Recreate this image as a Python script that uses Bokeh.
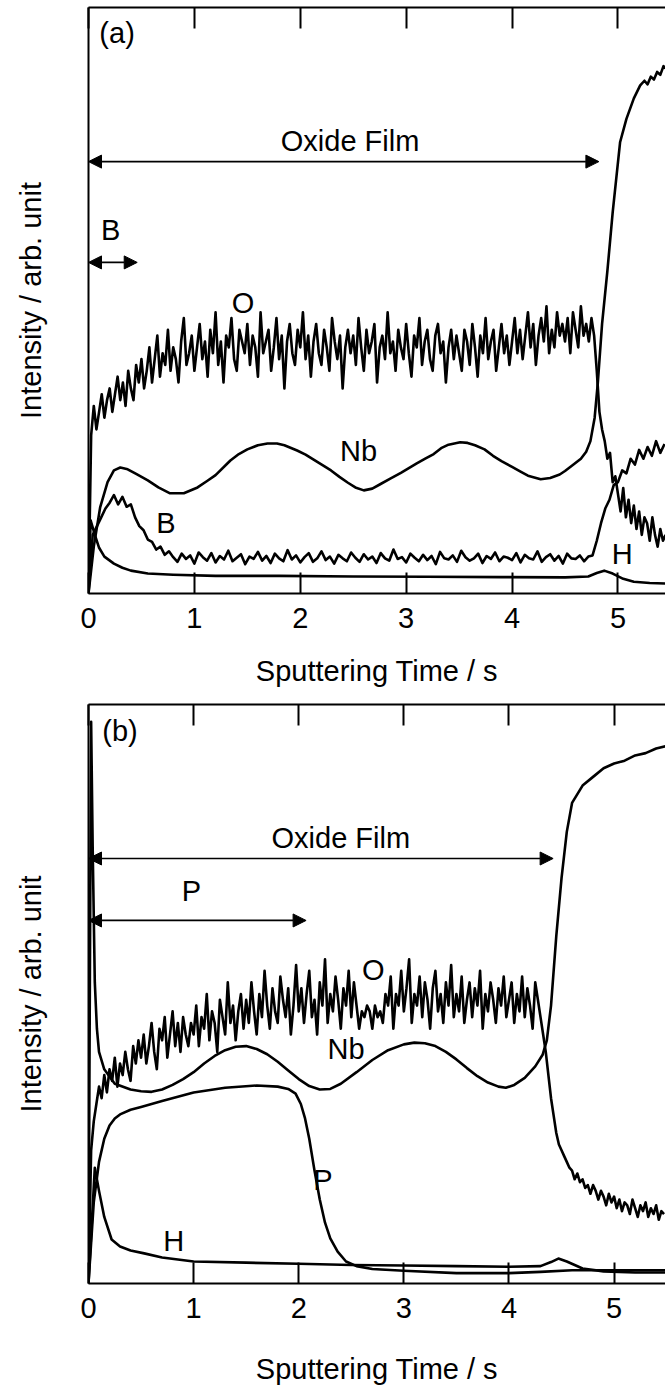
import numpy as np
from bokeh.plotting import figure
from bokeh.models import Range1d, LinearAxis, FixedTicker, Arrow, NormalHead, Label
from bokeh.layouts import column
from bokeh.embed import file_html
from bokeh.resources import INLINE

FONT = "Liberation Sans"
FS = "29px"

# ---------------- Panel (a) data ----------------
dt_a_O = 0.025
O_a = [0, 27, 32, 28, 31, 34, 30, 33, 35, 31, 34, 37, 33, 36, 32, 38, 35, 33, 39, 36,
       40, 35, 38, 42, 36, 40, 44, 37, 41, 39, 45, 38, 42, 40, 36, 43, 47, 39, 41, 44,
       38, 42, 46, 40, 43, 37, 45, 41, 48, 39, 43, 36, 44, 42, 47, 40, 38, 45, 43, 41,
       46, 39, 44, 42, 37, 48, 41, 43, 45, 38, 42, 47, 40, 44, 35, 43, 46, 41, 39, 45,
       42, 48, 40, 44, 37, 43, 46, 41, 39, 45, 42, 38, 47, 43, 40, 44, 35, 42, 45, 41,
       44, 39, 47, 42, 38, 45, 41, 43, 46, 36, 42, 44, 40, 48, 41, 43, 38, 45, 42, 40,
       46, 41, 37, 44, 42, 47, 39, 43, 45, 40, 38, 44, 46, 41, 43, 36, 42, 45, 40, 44,
       41, 38, 45, 43, 39, 46, 42, 37, 44, 41, 47, 40, 43, 45, 38, 42, 46, 41, 44, 39,
       43, 47, 41, 45, 40, 44, 48, 42, 46, 39, 44, 47, 43, 49, 41, 45, 42, 48, 44, 46,
       43, 47, 41, 48, 45, 42, 49, 44, 46, 43, 47, 44, 38, 31, 28, 26, 23, 24, 19, 20,
       17, 14, 18, 13, 16, 12, 15, 11, 14, 10, 13, 12, 9, 13, 10, 8, 11, 9, 10]

t_Nb_a = [0, 0.05, 0.11, 0.18, 0.24, 0.3, 0.37, 0.45, 0.56, 0.66, 0.77, 0.9, 1.03, 1.12,
          1.2, 1.34, 1.42, 1.5, 1.6, 1.69, 1.78, 1.85, 1.97, 2.05, 2.13, 2.21, 2.29, 2.37,
          2.45, 2.52, 2.6, 2.68, 2.75, 2.85, 2.95, 3.1, 3.18, 3.26, 3.33, 3.4, 3.51, 3.58,
          3.65, 3.74, 3.82, 3.9, 4.0, 4.08, 4.15, 4.27, 4.36, 4.45, 4.5, 4.58, 4.65, 4.7,
          4.74, 4.78, 4.81, 4.85, 4.9, 4.95, 5.02, 5.08, 5.15, 5.21, 5.25, 5.28, 5.31, 5.34,
          5.37, 5.4, 5.43, 5.45]
Nb_a = [0, 8, 14.7, 19, 21, 21.5, 21.2, 20.4, 19.3, 18.1, 17.1, 17.1, 18.1, 19.2,
        20.2, 22.7, 23.8, 24.6, 25.3, 25.6, 25.6, 25.3, 24.4, 23.7, 22.8, 21.9, 21, 19.9,
        18.9, 18.1, 17.6, 17.9, 18.6, 19.6, 20.6, 22.2, 23.0, 23.8, 24.8, 25.4, 25.8, 25.7,
        25.3, 24.6, 23.5, 22.6, 21.6, 20.8, 20.1, 19.5, 19.7, 20.3, 20.9, 22.0, 23.0, 24.2,
        26, 30, 36, 46, 55, 65, 77, 81, 84.5, 86.7, 87.5, 86.9, 88.2, 87.7,
        89, 88.5, 90, 89.6]

dt_a_B = 0.04
B_a = [0, 10, 11.5, 13, 14.5, 15.5, 16.8, 15.2, 16.5, 14.8, 15.2, 13, 11.5, 10.8, 9.2, 8.8, 7.5, 8, 6.6, 7.2, 6.2,
       5.4, 6.8, 5.9, 6.5, 5.1, 7.0, 6.2, 5.6, 6.9, 5.3, 6.4, 5.8, 7.3, 5.5, 6.1, 6.7, 5.0, 6.3, 5.9, 7.1,
       5.6, 6.4, 5.2, 6.8, 6.0, 5.5, 7.4, 5.8, 6.5, 5.3, 6.2, 6.9, 5.4, 6.0, 7.2, 5.7, 6.3, 5.1, 6.6, 6.0,
       5.5, 7.0, 6.1, 5.4, 6.7, 5.8, 6.3, 5.2, 6.9, 6.0, 5.6, 7.5, 5.9, 6.2, 5.3, 6.8, 6.1, 5.5, 6.6, 5.7,
       6.4, 5.0, 7.1, 6.0, 5.8, 6.5, 5.4, 7.3, 6.2, 5.6, 6.0, 6.8, 5.2, 6.4, 5.9, 7.0, 5.5, 6.3, 6.1, 5.7,
       6.9, 5.3, 6.6, 6.0, 5.8, 7.2, 5.4, 6.2, 6.7, 5.6, 6.4, 5.1, 6.8, 6.0, 5.9, 6.5, 5.5, 6.3,
       6.5, 9, 12, 14.5, 16, 18.5, 19, 21, 20.5, 23, 22, 24.5, 23, 25, 23.5, 26, 24, 25.5]

t_H_a = [0, 0.02, 0.06, 0.1, 0.15, 0.24, 0.32, 0.4, 0.56, 0.8, 1.2, 1.8, 2.5, 3.2, 3.9,
         4.5, 4.72, 4.8, 4.87, 4.95, 5.05, 5.15, 5.3, 5.45]
H_a = [0, 12.5, 10, 7.8, 6.3, 5.1, 4.4, 3.9, 3.4, 3.2, 3.0, 3.0, 2.9, 2.85, 2.8,
       2.75, 2.9, 3.5, 3.9, 3.4, 2.5, 2.0, 1.8, 1.7]

# ---------------- Panel (b) data ----------------
dt_b_O = 0.025
O_b = [0, 23, 28, 31, 34, 32, 36, 33, 37, 35, 39, 34, 38, 36, 40, 37, 35, 41, 38, 42,
       39, 43, 38, 41, 45, 40, 37, 44, 42, 46, 39, 43, 47, 41, 45, 40, 46, 43, 41, 45,
       43, 48, 41, 46, 44, 50, 42, 47, 45, 40, 49, 46, 43, 52, 45, 48, 42, 47, 50, 44,
       49, 45, 52, 47, 43, 50, 46, 54, 48, 44, 51, 47, 45, 53, 49, 46, 51, 43, 48, 55,
       47, 51, 45, 50, 54, 46, 49, 43, 52, 48, 56, 45, 50, 47, 53, 49, 44, 51, 48, 54,
       46, 52, 48, 44, 47, 46, 48, 47, 44, 48, 46, 47, 45, 50, 48, 53, 44, 50, 48, 54,
       47, 51, 56, 45, 50, 48, 53, 46, 52, 49, 44, 51, 54, 47, 50, 45, 52, 48, 55, 46,
       50, 47, 53, 45, 49, 52, 46, 51, 48, 54, 44, 50, 47, 52, 49, 45, 51, 48, 53, 46,
       49, 52, 45, 50, 47, 53, 46, 51, 48, 44, 52, 49, 46, 43, 40, 36, 32, 29, 26, 24,
       23, 22, 21, 20, 19.5, 18, 19, 17.5, 18, 16.5, 17, 15.5, 17, 16, 14.5, 16, 15, 13.5, 15.5, 14,
       15, 13, 14.5, 12.5, 14, 13.5, 12, 14.5, 13, 11.5, 13.5, 12.5, 14, 11.5, 13, 12, 13.5, 11, 12.5, 12]

t_Nb_b = [0, 0.015, 0.025, 0.04, 0.06, 0.08, 0.1, 0.15, 0.25, 0.4, 0.5, 0.6, 0.7, 0.8,
          0.9, 1.0, 1.1, 1.2, 1.3, 1.4, 1.5, 1.6, 1.7, 1.8, 1.9, 2.0, 2.1, 2.2, 2.3, 2.4,
          2.55, 2.7, 2.85, 3.0, 3.1, 3.2, 3.3, 3.4, 3.5, 3.6, 3.7, 3.8, 3.9, 3.97, 4.05,
          4.15, 4.25, 4.32, 4.36, 4.4, 4.45, 4.5, 4.55, 4.6, 4.7, 4.8, 4.9, 5.0, 5.1, 5.2,
          5.3, 5.4, 5.49]
Nb_b = [0, 60, 97, 75, 52, 44, 40, 37, 34.5, 33.5, 33.2, 33.1, 33.5, 34.3,
        35.3, 36.5, 38.0, 39.3, 40.3, 40.9, 41.0, 40.5, 39.6, 38.3, 36.8, 35.3, 34.1, 33.5, 33.6, 34.5,
        36.5, 38.6, 40.3, 41.3, 41.6, 41.5, 41.0, 40.0, 38.7, 37.2, 35.8, 34.7, 34.0, 33.8, 34.3,
        35.5, 37.5, 39.5, 42, 48, 60, 70, 78, 83, 86, 87.5, 89, 89.8, 90.3, 91.2,
        91.6, 92.4, 92.8]

t_P_b = [0, 0.05, 0.1, 0.15, 0.2, 0.25, 0.3, 0.4, 0.5, 0.7, 1.0, 1.3, 1.6, 1.8, 1.9,
         1.97, 2.02, 2.06, 2.1, 2.15, 2.2, 2.25, 2.3, 2.37, 2.45, 2.55, 2.7, 3.0, 3.5,
         4.0, 4.3, 4.6, 5.0, 5.49]
P_b = [0, 14, 21, 25, 27.3, 28.5, 29.2, 30, 30.5, 31.5, 33, 33.8, 34.2, 34.0, 33.6,
       32.8, 31, 28.5, 25, 19.5, 14.5, 10.5, 7.8, 5.5, 3.8, 3.0, 2.5, 2.2, 1.8,
       1.8, 2, 2.3, 2.3, 2.3]

t_H_b = [0, 0.06, 0.1, 0.15, 0.22, 0.3, 0.4, 0.53, 0.7, 1.0, 1.5, 2.0, 2.5, 3.0, 3.5,
         4.0, 4.3, 4.4, 4.47, 4.55, 4.7, 4.9, 5.2, 5.49]
H_b = [0, 20, 16, 11.5, 7.6, 6.4, 5.7, 5.2, 4.5, 3.8, 3.6, 3.4, 3.2, 3.1, 3.0,
       2.9, 3.0, 3.7, 4.3, 3.8, 2.6, 2.1, 1.9, 1.9]

x_ticks = [0, 1, 2, 3, 4, 5, 6]

# annotation texts / positions (data units)
labels_a = [("(a)", 0.27, 95.7), ("Oxide Film", 2.47, 77.3), ("B", 0.21, 62.0),
            ("O", 1.46, 49.5), ("Nb", 2.55, 24.4), ("B", 0.73, 12.1), ("H", 5.04, 6.7)]
arrows_a = [(0.0, 4.82, 73.7), (0.0, 0.46, 56.5)]
labels_b = [("(b)", 0.30, 95.5), ("Oxide Film", 2.40, 77.0), ("P", 0.98, 67.8),
            ("O", 2.71, 54.2), ("Nb", 2.45, 40.5), ("P", 2.23, 17.8), ("H", 0.81, 7.4)]
arrows_b = [(0.0, 4.42, 73.4), (0.0, 2.07, 62.7)]


def panel(height, border_top, border_bottom, border_left, xmax, title_standoff):
    p = figure(width=665, height=height, x_range=Range1d(0, xmax), y_range=Range1d(0, 100),
               output_backend="svg", toolbar_location=None,
               min_border_left=border_left, min_border_right=0,
               min_border_top=border_top, min_border_bottom=border_bottom)
    p.outline_line_color = None
    p.grid.visible = False
    p.background_fill_color = "white"
    p.border_fill_color = "white"

    xa = p.xaxis[0]
    xa.ticker = FixedTicker(ticks=x_ticks)
    xa.major_tick_in = 21
    xa.major_tick_out = 0
    xa.minor_tick_line_color = None
    xa.axis_line_width = 2
    xa.major_tick_line_width = 2
    xa.axis_line_color = "black"
    xa.major_tick_line_color = "black"
    xa.major_label_text_font = FONT
    xa.major_label_text_font_size = FS
    xa.major_label_text_color = "black"
    xa.major_label_standoff = 14
    xa.axis_label = "Sputtering Time / s"
    xa.axis_label_text_font = FONT
    xa.axis_label_text_font_size = FS
    xa.axis_label_text_font_style = "normal"
    xa.axis_label_text_color = "black"
    xa.axis_label_standoff = title_standoff

    ya = p.yaxis[0]
    ya.ticker = FixedTicker(ticks=[])
    ya.axis_line_width = 2
    ya.axis_line_color = "black"
    ya.minor_tick_line_color = None
    ya.major_tick_line_color = None
    ya.axis_label = "Intensity / arb. unit"
    ya.axis_label_text_font = FONT
    ya.axis_label_text_font_size = FS
    ya.axis_label_text_font_style = "normal"
    ya.axis_label_text_color = "black"
    ya.axis_label_standoff = 42

    top = LinearAxis(ticker=FixedTicker(ticks=x_ticks), major_tick_in=21, major_tick_out=0,
                     major_label_text_font_size="1px", major_label_text_color=None,
                     major_label_standoff=0,
                     axis_line_width=2, major_tick_line_width=2,
                     minor_tick_line_color=None)
    p.add_layout(top, "above")
    return p


def add_text(p, labels, arrows):
    for txt, x, y in labels:
        p.add_layout(Label(x=x, y=y, text=txt, text_font=FONT, text_font_size=FS,
                           text_color="black", text_align="center", text_baseline="middle"))
    for x0, x1, y in arrows:
        p.add_layout(Arrow(x_start=x0, y_start=y, x_end=x1, y_end=y, line_width=1.7,
                           start=NormalHead(size=13, fill_color="black", line_color="black"),
                           end=NormalHead(size=13, fill_color="black", line_color="black")))


LW = 2.6

pa = panel(700, 7, 107, 88, 5.449, 24)
t_O_a = np.arange(len(O_a)) * dt_a_O
t_B_a = np.arange(len(B_a)) * dt_a_B
pa.line(t_O_a, O_a, line_color="black", line_width=LW, line_join="round")
pa.line(t_Nb_a, Nb_a, line_color="black", line_width=LW, line_join="round")
pa.line(t_B_a, B_a, line_color="black", line_width=LW, line_join="round")
pa.line(t_H_a, H_a, line_color="black", line_width=LW, line_join="round")
add_text(pa, labels_a, arrows_a)

pb = panel(692, 4, 109, 87, 5.489, 32)
t_O_b = np.arange(len(O_b)) * dt_b_O
pb.line(t_O_b, O_b, line_color="black", line_width=LW, line_join="round")
pb.line(t_Nb_b, Nb_b, line_color="black", line_width=LW, line_join="round")
pb.line(t_P_b, P_b, line_color="black", line_width=LW, line_join="round")
pb.line(t_H_b, H_b, line_color="black", line_width=LW, line_join="round")
add_text(pb, labels_b, arrows_b)

layout = column(pa, pb, spacing=0)
open("out.html", "w").write(file_html(layout, INLINE))
